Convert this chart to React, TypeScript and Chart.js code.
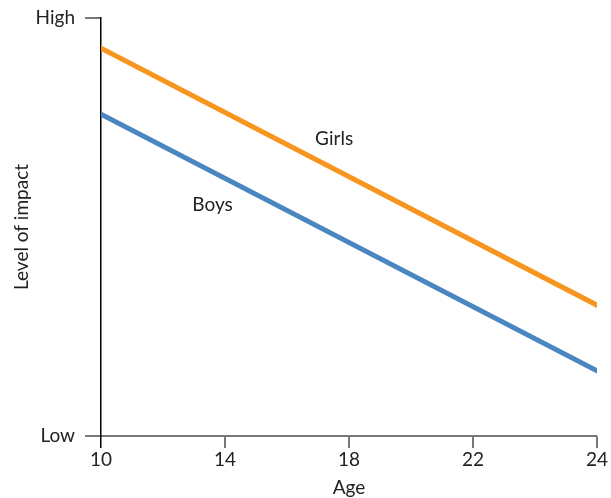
import React, { useEffect, useRef } from "react";
import { Chart, registerables } from "chart.js";

Chart.register(...registerables);

const xTickLabels = ["10", "14", "18", "22", "24"];
const yTickLabels: Record<number, string> = { 0: "Low", 100: "High" };
const girlsValues = [92.8, 31.3];
const boysValues = [77.0, 15.6];
const xPositions = [0, 4];
const seriesLabels = [
  { text: "Girls", x: 1.88, y: 71.0 },
  { text: "Boys", x: 0.9, y: 55.3 },
];

const FONT = "Lato, 'Open Sans', sans-serif";
const FS = 19;
const TEXT = "#222";
const GRAY = "#777";

const labelPlugin = {
  id: "seriesLabels",
  afterDatasetsDraw(chart: any) {
    const { ctx, scales } = chart;
    ctx.save();
    ctx.font = `${FS}px ${FONT}`;
    ctx.fillStyle = TEXT;
    ctx.textAlign = "center";
    ctx.textBaseline = "middle";
    for (const l of seriesLabels) {
      ctx.fillText(l.text, scales.x.getPixelForValue(l.x), scales.y.getPixelForValue(l.y));
    }
    ctx.restore();
  },
};

export default function App() {
  const ref = useRef<HTMLCanvasElement>(null);
  useEffect(() => {
    if (!ref.current) return;
    const chart = new Chart(ref.current, {
      type: "line",
      data: {
        datasets: [
          {
            label: "Girls",
            data: xPositions.map((x, i) => ({ x, y: girlsValues[i] })),
            borderColor: "#F7951E",
            borderWidth: 5,
            borderCapStyle: "round",
            pointRadius: 0,
          },
          {
            label: "Boys",
            data: xPositions.map((x, i) => ({ x, y: boysValues[i] })),
            borderColor: "#4A87C1",
            borderWidth: 5,
            borderCapStyle: "round",
            pointRadius: 0,
          },
        ],
      },
      options: {
        animation: false,
        responsive: true,
        maintainAspectRatio: false,
        layout: { padding: { top: 18, right: 14, left: 0, bottom: 0 } },
        plugins: { legend: { display: false }, tooltip: { enabled: false } },
        scales: {
          x: {
            type: "linear",
            min: 0,
            max: 4,
            afterFit: (s: any) => {
              s.height = 62;
              s.paddingLeft = 0;
              s.paddingRight = 0;
            },
            afterBuildTicks: (s: any) => {
              s.ticks = xTickLabels.map((_, i) => ({ value: i }));
            },
            border: { display: true, color: GRAY, width: 2 },
            grid: {
              drawOnChartArea: false,
              drawTicks: true,
              tickLength: 12,
              color: (c: any) => (c.index === 0 ? "#000" : GRAY),
              lineWidth: (c: any) => (c.index === 0 ? 1.5 : 2),
            },
            ticks: {
              callback: (v: any) => xTickLabels[v] ?? "",
              color: TEXT,
              font: { family: FONT, size: FS },
              padding: 0,
              maxRotation: 0,
              autoSkip: false,
            },
            title: {
              display: true,
              text: "Age",
              color: TEXT,
              font: { family: FONT, size: FS },
              padding: { top: 0, bottom: -1 },
            },
          },
          y: {
            type: "linear",
            min: 0,
            max: 100,
            afterFit: (s: any) => {
              s.width = 101;
              s.paddingTop = 0;
              s.paddingBottom = 0;
            },
            afterBuildTicks: (s: any) => {
              s.ticks = [{ value: 0 }, { value: 100 }];
            },
            border: { display: true, color: "#000", width: 1.5 },
            grid: {
              drawOnChartArea: false,
              drawTicks: true,
              tickLength: 16,
              color: GRAY,
              lineWidth: 2,
            },
            ticks: {
              callback: (v: any) => yTickLabels[v] ?? "",
              color: TEXT,
              font: { family: FONT, size: FS },
              padding: 10,
              autoSkip: false,
            },
            title: {
              display: true,
              text: "Level of impact",
              color: TEXT,
              font: { family: FONT, size: FS },
              padding: { top: 10, bottom: 0 },
            },
          },
        },
      } as any,
      plugins: [labelPlugin],
    });
    return () => chart.destroy();
  }, []);
  return (
    <div style={{ position: "fixed", left: 0, top: 0, width: 611, height: 498 }}>
      <canvas ref={ref} />
    </div>
  );
}
